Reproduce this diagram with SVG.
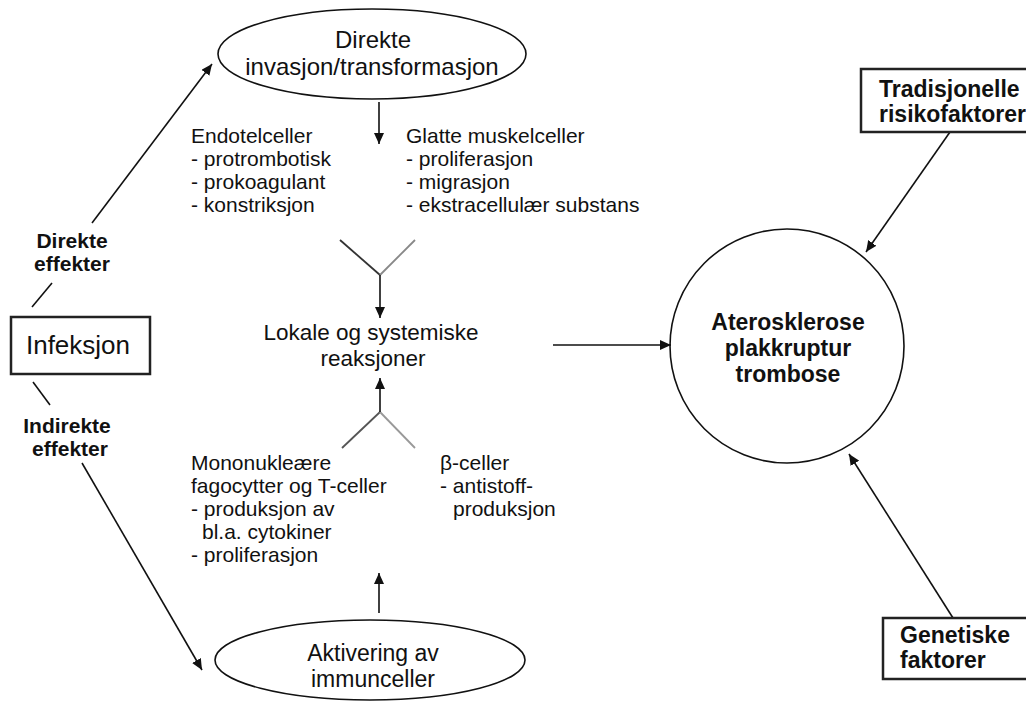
<svg xmlns="http://www.w3.org/2000/svg" width="1026" height="702" viewBox="0 0 1026 702">
<style>
text{font-family:"Liberation Sans",Arial,sans-serif;fill:#111}
.b{font-weight:bold}
.c{text-anchor:middle}
.col{font-size:21px}
.ell{font-size:24px}
.shape{fill:none;stroke:#111;stroke-width:1.6}
.box{fill:#fff;stroke:#222;stroke-width:2.5}
.ln{stroke:#111;stroke-width:1.6;fill:none}
.arr{stroke:#111;stroke-width:1.6;fill:none;marker-end:url(#ah)}
</style>
<defs>
<marker id="ah" markerUnits="userSpaceOnUse" markerWidth="12" markerHeight="10" refX="11" refY="5" orient="auto">
<path d="M0,0 L11,5 L0,10 z" fill="#111"/>
</marker>
</defs>
<rect width="1026" height="702" fill="#fff"/>

<g id="connectors">
<line class="ln" x1="32" y1="307" x2="52" y2="283"/>
<line class="arr" x1="92" y1="223" x2="212" y2="64"/>
<line class="ln" x1="33" y1="382" x2="50" y2="405"/>
<line class="arr" x1="82" y1="463" x2="202" y2="670"/>
<line class="arr" x1="379" y1="102" x2="379" y2="144"/>
<line x1="340" y1="240" x2="380" y2="275" stroke="#333" stroke-width="1.8"/>
<line x1="415" y1="240" x2="380" y2="275" stroke="#888" stroke-width="1.8"/>
<line class="arr" x1="380" y1="275" x2="380" y2="318"/>
<line x1="380" y1="412" x2="342" y2="448" stroke="#555" stroke-width="1.8"/>
<line x1="380" y1="412" x2="415" y2="448" stroke="#999" stroke-width="1.8"/>
<line class="arr" x1="380" y1="412" x2="380" y2="378"/>
<line class="arr" x1="379" y1="613" x2="379" y2="573"/>
<line class="arr" x1="553" y1="345" x2="671" y2="345"/>
<line class="arr" x1="950" y1="132" x2="866" y2="252"/>
<line class="arr" x1="953" y1="618" x2="849" y2="454"/>
</g>

<g id="infeksjon">
<rect class="box" x="11" y="317" width="139" height="57"/>
<text x="78" y="354" class="c" font-size="26">Infeksjon</text>
</g>

<g id="direkte-effekter">
<text x="72" y="248" class="b c" font-size="21">Direkte</text>
<text x="72" y="271" class="b c" font-size="21">effekter</text>
</g>

<g id="indirekte-effekter">
<text x="67" y="433" class="b c" font-size="21">Indirekte</text>
<text x="70" y="456" class="b c" font-size="21">effekter</text>
</g>

<g id="direkte-invasjon">
<ellipse class="shape" cx="372" cy="54" rx="154" ry="45"/>
<text x="373" y="48" class="c ell">Direkte</text>
<text x="372" y="75" class="c ell">invasjon/transformasjon</text>
</g>

<g id="endotelceller">
<text x="191" y="143" class="col">Endotelceller</text>
<text x="191" y="166" class="col">- protrombotisk</text>
<text x="191" y="189" class="col">- prokoagulant</text>
<text x="191" y="212" class="col">- konstriksjon</text>
</g>

<g id="glatte-muskelceller">
<text x="406" y="143" class="col">Glatte muskelceller</text>
<text x="406" y="166" class="col">- proliferasjon</text>
<text x="406" y="189" class="col">- migrasjon</text>
<text x="406" y="212" class="col">- ekstracellulær substans</text>
</g>

<g id="lokale-reaksjoner">
<text x="371" y="340" class="c" font-size="22.5">Lokale og systemiske</text>
<text x="373" y="366" class="c" font-size="22.5">reaksjoner</text>
</g>

<g id="mononukleaere">
<text x="191" y="470" class="col">Mononukleære</text>
<text x="191" y="493" class="col">fagocytter og T-celler</text>
<text x="191" y="516" class="col">- produksjon av</text>
<text x="202" y="539" class="col">bl.a. cytokiner</text>
<text x="191" y="562" class="col">- proliferasjon</text>
</g>

<g id="b-celler">
<text x="440" y="470" class="col">β-celler</text>
<text x="440" y="493" class="col">- antistoff-</text>
<text x="453" y="516" class="col">produksjon</text>
</g>

<g id="aktivering">
<ellipse class="shape" cx="370" cy="660" rx="155" ry="40"/>
<text x="373" y="661" class="c" font-size="23">Aktivering av</text>
<text x="373" y="687" class="c" font-size="23">immunceller</text>
</g>

<g id="aterosklerose">
<circle class="shape" cx="787" cy="346" r="117"/>
<text x="788" y="330" class="b c" font-size="23">Aterosklerose</text>
<text x="788" y="356" class="b c" font-size="23">plakkruptur</text>
<text x="788" y="382" class="b c" font-size="23">trombose</text>
</g>

<g id="tradisjonelle">
<rect class="box" x="861" y="69" width="200" height="63"/>
<text x="879" y="97" class="b" font-size="23">Tradisjonelle</text>
<text x="879" y="122" class="b" font-size="23">risikofaktorer</text>
</g>

<g id="genetiske">
<rect class="box" x="883" y="618" width="200" height="61"/>
<text x="900" y="643" class="b" font-size="23">Genetiske</text>
<text x="900" y="668" class="b" font-size="23">faktorer</text>
</g>
</svg>
